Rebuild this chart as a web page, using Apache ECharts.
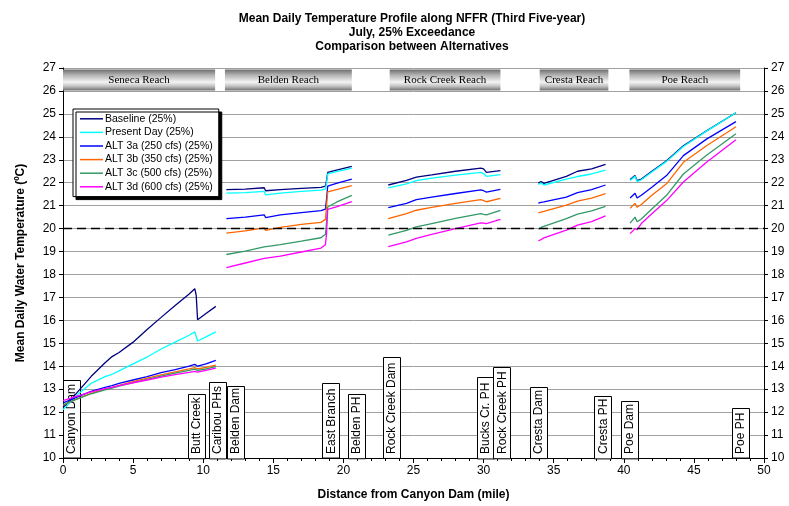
<!DOCTYPE html>
<html><head><meta charset="utf-8">
<script src="https://cdn.jsdelivr.net/npm/echarts@6/dist/echarts.min.js"></script>
<style>html,body{margin:0;padding:0;background:#fff}#c{width:789px;height:506px}</style>
</head><body><div id="c"></div>
<script>
// ---- Data (null = gap between reaches) ----
const distX = [0, 0.5, 1, 2, 3, 3.5, 4, 5, 6, 7, 8, 9, 9.4, 9.5, 9.6, 10.2, 10.9, null,
  11.65, 13.0, 14.35, 14.45, 15.5, 17.0, 18.4, 18.72, 18.8, 18.88, 19.5, 20.6, null,
  23.2, 24.5, 25.2, 25.3, 26.3, 28.0, 29.8, 30.0, 30.2, 31.2, null,
  33.9, 34.1, 34.3, 34.4, 35.9, 36.7, 37.7, 38.7, null,
  40.45, 40.8, 40.95, 41.25, 42.0, 43.05, 44.25, 45.9, 48.0];
const baseline = [12.2, 12.5, 12.85, 13.55, 14.15, 14.42, 14.6, 15.05, 15.6, 16.13, 16.65, 17.15, 17.38, 17.1, 16.03, 16.3, 16.61, null,
  21.7, 21.72, 21.78, 21.65, 21.7, 21.75, 21.8, 21.85, 22.1, 22.45, 22.55, 22.71, null,
  21.9, 22.1, 22.24, 22.18, 22.34, 22.5, 22.64, 22.6, 22.45, 22.53, null,
  21.98, 22.05, 21.97, 21.95, 22.28, 22.5, 22.6, 22.8, null,
  22.14, 22.31, 22.09, 22.16, 22.5, 22.96, 23.61, 24.26, 25.05];
const presentDay = [12.1, 12.42, 12.75, 13.25, 13.55, 13.65, 13.8, 14.1, 14.4, 14.75, 15.05, 15.35, 15.5, 15.42, 15.1, 15.28, 15.5, null,
  21.55, 21.57, 21.62, 21.47, 21.55, 21.62, 21.68, 21.73, 22.0, 22.38, 22.48, 22.64, null,
  21.77, 21.95, 22.09, 22.04, 22.2, 22.33, 22.45, 22.4, 22.28, 22.35, null,
  21.92, 21.98, 21.9, 21.9, 22.16, 22.27, 22.38, 22.55, null,
  22.1, 22.28, 22.05, 22.13, 22.47, 22.93, 23.58, 24.25, 25.05];
const alt3a = [12.4, 12.52, 12.65, 12.9, 13.08, 13.15, 13.25, 13.4, 13.55, 13.72, 13.85, 14.0, 14.08, 14.05, 14.0, 14.1, 14.26, null,
  20.43, 20.5, 20.6, 20.48, 20.6, 20.7, 20.78, 20.85, 21.3, 21.85, 21.97, 22.16, null,
  20.91, 21.1, 21.26, 21.22, 21.37, 21.53, 21.69, 21.65, 21.59, 21.71, null,
  21.11, 21.14, 21.16, 21.18, 21.37, 21.57, 21.7, 21.9, null,
  21.33, 21.54, 21.33, 21.45, 21.8, 22.31, 23.18, 23.9, 24.66];
const alt3b = [12.3, 12.45, 12.58, 12.82, 13.0, 13.08, 13.17, 13.33, 13.48, 13.62, 13.75, 13.88, 13.94, 13.9, 13.88, 13.95, 14.05, null,
  19.8, 19.9, 20.03, 19.92, 20.05, 20.18, 20.27, 20.4, 21.0, 21.6, 21.7, 21.87, null,
  20.43, 20.65, 20.8, 20.76, 20.92, 21.1, 21.26, 21.22, 21.17, 21.32, null,
  20.68, 20.72, 20.75, 20.78, 21.02, 21.2, 21.33, 21.52, null,
  20.89, 21.1, 20.93, 21.05, 21.45, 21.95, 22.89, 23.61, 24.44];
const alt3c = [12.32, 12.45, 12.57, 12.8, 12.97, 13.05, 13.13, 13.29, 13.43, 13.57, 13.7, 13.82, 13.87, 13.84, 13.82, 13.88, 13.98, null,
  18.87, 19.02, 19.2, 19.12, 19.3, 19.45, 19.6, 19.75, 20.3, 20.94, 21.15, 21.45, null,
  19.71, 19.92, 20.07, 20.05, 20.22, 20.45, 20.65, 20.62, 20.6, 20.79, null,
  19.97, 20.05, 20.1, 20.13, 20.43, 20.63, 20.77, 20.97, null,
  20.24, 20.5, 20.3, 20.42, 20.85, 21.45, 22.38, 23.2, 24.13];
const alt3d = [12.5, 12.6, 12.7, 12.88, 13.02, 13.08, 13.15, 13.28, 13.4, 13.53, 13.63, 13.73, 13.78, 13.76, 13.74, 13.82, 13.92, null,
  18.3, 18.5, 18.7, 18.62, 18.8, 18.98, 19.15, 19.3, 19.8, 20.84, 20.95, 21.18, null,
  19.21, 19.42, 19.57, 19.56, 19.75, 20.0, 20.25, 20.24, 20.22, 20.4, null,
  19.47, 19.52, 19.6, 19.63, 19.93, 20.15, 20.3, 20.55, null,
  19.78, 20.0, 19.95, 20.22, 20.65, 21.22, 22.03, 22.89, 23.87];
const seriesNames = ['Baseline (25%)', 'Present Day (25%)', 'ALT 3a (250 cfs) (25%)', 'ALT 3b (350 cfs) (25%)', 'ALT 3c (500 cfs) (25%)', 'ALT 3d (600 cfs) (25%)'];
const seriesValues = [baseline, presentDay, alt3a, alt3b, alt3c, alt3d];
const seriesColors = ['#000080', '#00FFFF', '#0000FF', '#FF6600', '#339966', '#FF00FF'];

const reachNames = ['Seneca Reach', 'Belden Reach', 'Rock Creek Reach', 'Cresta Reach', 'Poe Reach'];
const reachStart = [0, 11.55, 23.3, 34.0, 40.4];
const reachEnd = [10.85, 20.6, 31.2, 38.9, 48.3];

const siteNames = ['Canyon Dam', 'Butt Creek', 'Caribou PHs', 'Belden Dam', 'East Branch', 'Belden PH', 'Rock Creek Dam', 'Bucks Cr. PH', 'Rock Creek PH', 'Cresta Dam', 'Cresta PH', 'Poe Dam', 'Poe PH'];
const siteX = [0.6, 9.5, 11.0, 12.27, 19.1, 20.9, 23.4, 30.1, 31.3, 33.9, 38.5, 40.4, 48.3];
const siteTop = [13.38, 12.8, 13.33, 13.16, 13.25, 12.8, 14.4, 13.55, 13.98, 13.1, 12.72, 12.5, 12.16];

const yTicks = {min: 10, max: 27, interval: 1};
const xTicks = {min: 0, max: 50, interval: 5};
const threshold = 20;

// ---- Chart ----
const FONT = '"Liberation Sans", Arial, sans-serif';
const chart = echarts.init(document.getElementById('c'), null, {renderer: 'canvas'});
function pts(vals) {
  return distX.map((x, i) => (x === null || vals[i] === null) ? [distX[i - 1] || 0, '-'] : [x, vals[i]]);
}
const bannerGrad = new echarts.graphic.LinearGradient(0, 0, 0, 1, [
  {offset: 0, color: '#6e6e6e'}, {offset: 0.25, color: '#b0b0b0'}, {offset: 0.6, color: '#f4f4f4'},
  {offset: 0.8, color: '#c0c0c0'}, {offset: 1, color: '#707070'}]);

const lineSeries = seriesNames.map((n, k) => ({
  name: n, type: 'line', data: pts(seriesValues[k]), symbol: 'none', showSymbol: false,
  connectNulls: false, lineStyle: {color: seriesColors[k], width: 1.3}, itemStyle: {color: seriesColors[k]},
  z: 3, animation: false
}));
lineSeries[0].markLine = {
  silent: true, symbol: 'none', label: {show: false},
  lineStyle: {color: '#000', type: [9, 5], width: 1.3},
  data: [{yAxis: threshold}]
};
lineSeries[0].markArea = {
  silent: true,
  itemStyle: {color: bannerGrad},
  label: {show: true, position: 'inside', color: '#000', fontFamily: '"Liberation Serif", "Times New Roman", serif', fontSize: 11},
  data: reachNames.map((n, i) => [{name: n, xAxis: reachStart[i], yAxis: 26.93}, {xAxis: reachEnd[i], yAxis: 26.02}])
};

const siteSeries = {
  type: 'custom', z: 1, silent: true, animation: false,
  data: siteX.map((x, i) => [x, siteTop[i]]),
  renderItem: function (params, api) {
    const x = api.value(0), top = api.value(1);
    const p0 = api.coord([x, 10]), p1 = api.coord([x, top]);
    return {
      type: 'group', children: [
        {type: 'rect', shape: {x: Math.round(p0[0] - 8.5) + 0.5, y: Math.round(p1[1]) + 0.5, width: 17, height: p0[1] - p1[1]},
          style: {fill: '#fff', stroke: '#000', lineWidth: 1}},
        {type: 'text', x: p0[0] + 0.5, y: p0[1] - 4, rotation: Math.PI / 2,
          style: {text: siteNames[params.dataIndex], fill: '#000', font: '12px ' + FONT, align: 'left', verticalAlign: 'middle'}}
      ]
    };
  }
};

chart.setOption({
  animation: false,
  backgroundColor: '#fff',
  title: {
    text: 'Mean Daily Temperature Profile along NFFR (Third Five-year)\nJuly, 25% Exceedance\nComparison between Alternatives',
    left: 407, top: 7, textAlign: 'center',
    textStyle: {fontFamily: FONT, fontSize: 12, fontWeight: 'bold', lineHeight: 14, color: '#000'}
  },
  legend: {
    orient: 'vertical', left: 73, top: 109, icon: 'rect', itemWidth: 23, itemHeight: 1.5, itemGap: 0,
    padding: [3, 6, 3, 7], backgroundColor: '#fff', borderColor: '#000', borderWidth: 1,
    shadowColor: '#000', shadowOffsetX: 3, shadowOffsetY: 3, shadowBlur: 0,
    textStyle: {fontFamily: FONT, fontSize: 10.5, color: '#000', lineHeight: 13.6, padding: [0, 0, 0, -3]},
    data: seriesNames
  },
  grid: {left: 63, right: 25, top: 68, bottom: 45, containLabel: false},
  xAxis: {
    type: 'value', min: xTicks.min, max: xTicks.max, interval: xTicks.interval,
    name: 'Distance from Canyon Dam (mile)', nameLocation: 'middle', nameGap: 31,
    nameTextStyle: {fontFamily: FONT, fontSize: 12, fontWeight: 'bold', color: '#000'},
    axisLine: {show: true, lineStyle: {color: '#000', width: 1}},
    axisTick: {show: true, length: 5, lineStyle: {color: '#000'}},
    minorTick: {show: true, splitNumber: 5, length: 3, lineStyle: {color: '#000'}},
    axisLabel: {fontFamily: FONT, fontSize: 12, color: '#000', margin: 7},
    splitLine: {show: false}
  },
  yAxis: [{
    type: 'value', min: yTicks.min, max: yTicks.max, interval: yTicks.interval, position: 'left',
    name: 'Mean Daily Water Temperature (ºC)', nameLocation: 'middle', nameGap: 36,
    nameTextStyle: {fontFamily: FONT, fontSize: 12, fontWeight: 'bold', color: '#000'},
    axisLine: {show: true, lineStyle: {color: '#000', width: 1}},
    axisTick: {show: true, length: 4, lineStyle: {color: '#000'}},
    axisLabel: {fontFamily: FONT, fontSize: 12, color: '#000', margin: 7},
    splitLine: {show: true, lineStyle: {color: '#a0a0a0', width: 1}}
  }, {
    type: 'value', min: yTicks.min, max: yTicks.max, interval: yTicks.interval, position: 'right',
    axisLine: {show: true, lineStyle: {color: '#000', width: 1}},
    axisTick: {show: true, length: 4, lineStyle: {color: '#000'}},
    axisLabel: {fontFamily: FONT, fontSize: 12, color: '#000', margin: 7},
    splitLine: {show: false}
  }],
  series: [siteSeries].concat(lineSeries)
});
</script></body></html>
